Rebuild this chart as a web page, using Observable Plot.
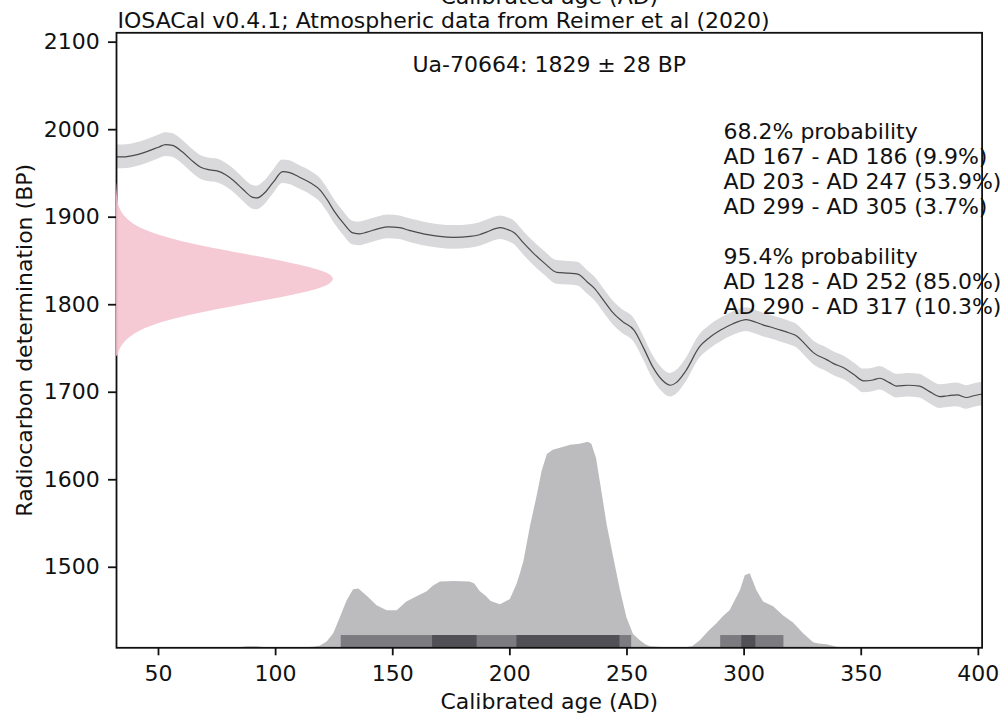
<!DOCTYPE html>
<html><head><meta charset="utf-8">
<script src="https://cdn.jsdelivr.net/npm/d3@7"></script>
<script src="https://cdn.jsdelivr.net/npm/@observablehq/plot@0.6"></script>
<style>
html,body{margin:0;padding:0;background:#fff;}
#chart{width:1005px;height:715px;}
</style></head><body><div id="chart"></div>
<script>
// Calibration curve (IntCal20 excerpt)
const curveAge = [32.1,35,40,45,50,53,56,60,65,68,72,75,79,82,86,90,92,95,99,103,106,110,115,119,122,125,129,133,136,139,144,148,153,157,160,165,170,176,183,187,190,196,199,202,206,210,215,220,225,229,233,236,240,244,248,253,257,261,265,268.5,271,275,281,285,290,295,301,305,308,312,315.5,319,322.6,326,329.7,335.4,338,342.5,347,351,355,358,362,365,370,375,379,383.7,387,390.9,395,398,401.6];
const curveBP = [1969,1969,1971,1975,1980,1983,1982,1975,1963,1957,1954,1953,1948,1942,1932,1923,1922,1927,1940,1952,1951,1946,1939,1931,1920,1907,1893,1882,1881,1883,1887,1889,1888,1885,1883,1880,1878,1877,1878,1880,1883,1888,1886,1882,1870,1859,1847,1837,1836,1835,1826,1819,1805,1791,1781,1771,1751,1729,1714,1708,1711,1724,1752,1762,1771,1778,1783,1780,1777,1774,1771,1768,1764,1755,1745,1737,1733,1728,1720,1713,1714,1716,1711,1707,1708,1707,1701,1695,1696,1697,1694,1696,1698];
const curveSigma = 13.5;

// Calibrated probability (relative to peak)
const probAge = [84,88,92,96,112,116,119,122,124.8,127.7,130.5,133.3,135.5,139,143.3,147.6,151.9,156,160.4,164.7,167.4,170.4,176,183,185,187.4,190,192,196,200.2,203,204.5,206,208.8,211.7,213.8,216,218.5,221.6,226,230,233.5,235,237,239,241.5,244.3,247.2,250,252.8,255.7,258,260,265,275,278,281.3,285,288.4,291,294,298.4,300.5,302.6,305.5,308.3,312.6,316.9,321.1,325.4,329.7,332,335.4,339.7,345];
const probRel = [0,0.005,0.005,0,0,0.003,0.008,0.028,0.068,0.149,0.228,0.282,0.286,0.252,0.204,0.180,0.180,0.223,0.248,0.272,0.301,0.320,0.322,0.320,0.31,0.272,0.25,0.225,0.209,0.235,0.306,0.36,0.42,0.59,0.74,0.86,0.94,0.96,0.97,0.985,0.99,1.0,0.99,0.92,0.78,0.60,0.44,0.28,0.145,0.065,0.034,0.015,0.005,0.001,0,0.005,0.034,0.08,0.117,0.15,0.18,0.277,0.35,0.36,0.277,0.223,0.2,0.155,0.121,0.068,0.024,0.018,0.015,0.003,0];

// Radiocarbon determination profile (relative)
const pinkBP = [1938,1930,1920,1910,1900,1890,1880,1870,1860,1850,1840,1834,1829,1824,1818,1810,1800,1790,1780,1770,1760,1750,1741];
const pinkRel = [0.001,0.003,0.006,0.016,0.042,0.094,0.19,0.34,0.54,0.755,0.925,0.985,1,0.985,0.93,0.795,0.585,0.38,0.215,0.11,0.05,0.019,0.006];

// HPD intervals
const hpd95Start = [128, 290], hpd95End = [252, 317];
const hpd68Start = [167, 203, 299], hpd68End = [186, 247, 305];

const xTicks = [50,100,150,200,250,300,350,400];
const yTicks = [1500,1600,1700,1800,1900,2000,2100];

const titleText = "IOSACal v0.4.1; Atmospheric data from Reimer et al (2020)";
const sampleText = "Ua-70664: 1829 \u00b1 28 BP";
const probText = "68.2% probability\nAD 167 - AD 186 (9.9%)\nAD 203 - AD 247 (53.9%)\nAD 299 - AD 305 (3.7%)\n\n95.4% probability\nAD 128 - AD 252 (85.0%)\nAD 290 - AD 317 (10.3%)";
const xLabel = "Calibrated age (AD)";
const yLabel = "Radiocarbon determination (BP)";

const xDomain = [32.07, 401.6];
const yDomain = [1408, 2110.7];
const densityScale = 235;   // BP units for peak of calibrated density
const pinkScale = 92.6;     // years for peak of determination profile
const barHeight = 14;

const curve = curveAge.map((a, i) => ({age: a, bp: curveBP[i]}));
const prob = probAge.map((a, i) => ({age: a, p: probRel[i]}));
const pink = pinkBP.map((b, i) => ({bp: b, r: pinkRel[i]}));
const h95 = hpd95Start.map((s, i) => ({s, e: hpd95End[i]}));
const h68 = hpd68Start.map((s, i) => ({s, e: hpd68End[i]}));

const chart = Plot.plot({
  width: 1005, height: 715,
  marginLeft: 116, marginRight: 23.4, marginTop: 32.3, marginBottom: 67.7,
  style: {fontFamily: "DejaVu Sans", fontSize: "22px", color: "#111", background: "#fff"},
  x: {domain: xDomain},
  y: {domain: yDomain},
  marks: [
    Plot.areaY(curve, {x: "age", y1: d => d.bp - curveSigma, y2: d => d.bp + curveSigma, fill: "#d9d9db", curve: "monotone-x"}),
    Plot.line(curve, {x: "age", y: "bp", stroke: "#4a4a4a", strokeWidth: 1.2, curve: "monotone-x"}),
    Plot.areaY(prob, {x: "age", y1: yDomain[0], y2: d => yDomain[0] + d.p * densityScale, fill: "#bcbcbf", curve: "linear"}),
    Plot.rect(h95, {x1: "s", x2: "e", y1: yDomain[0], y2: yDomain[0] + barHeight, fill: "#7b7b80"}),
    Plot.rect(h68, {x1: "s", x2: "e", y1: yDomain[0], y2: yDomain[0] + barHeight, fill: "#505056"}),
    Plot.frame({stroke: "#111", strokeWidth: 1.8}),
    Plot.areaX(pink, {y: "bp", x1: xDomain[0], x2: d => xDomain[0] + d.r * pinkScale, fill: "#f4c4cf", fillOpacity: 0.9, curve: "catmull-rom"}),
    Plot.axisX({ticks: xTicks, tickFormat: d => String(d), tickSize: 8, tickPadding: 9.5, label: null, stroke: "#111", strokeWidth: 1.8}),
    Plot.axisY({ticks: yTicks, tickFormat: d => String(d), tickSize: 8, tickPadding: 8.7, label: null, stroke: "#111", strokeWidth: 1.8}),
    Plot.text([xLabel], {text: d => d, frameAnchor: "top", dy: -29.3, lineAnchor: "bottom", fill: "#111"}),
    Plot.text([titleText], {text: d => d, frameAnchor: "top-left", textAnchor: "start", dx: 1, dy: -5, lineAnchor: "bottom", fill: "#111", ariaLabel: "title-box"}),
    Plot.text([sampleText], {text: d => d, frameAnchor: "top", dy: 38.7, lineAnchor: "bottom", fill: "#111"}),
    Plot.text([probText], {text: d => d, frameAnchor: "top-left", textAnchor: "start", dx: 607, dy: 88.1, lineAnchor: "top", lineHeight: 1.136, fill: "#111", ariaLabel: "prob-box"}),
    Plot.text([xLabel], {text: d => d, frameAnchor: "bottom", dy: 60.7, lineAnchor: "bottom", fill: "#111"}),
    Plot.text([yLabel], {text: d => d, frameAnchor: "left", textAnchor: "middle", rotate: -90, dx: -85, lineAnchor: "bottom", fill: "#111"})
  ]
});
document.getElementById("chart").append(chart);

function addBox(label, pad) {
  const g = chart.querySelector(`g[aria-label="${label}"]`);
  if (!g) return;
  const s = chart.getBoundingClientRect();
  const r = g.getBoundingClientRect();
  const rect = document.createElementNS("http://www.w3.org/2000/svg", "rect");
  rect.setAttribute("x", r.left - s.left - pad[3]);
  rect.setAttribute("y", r.top - s.top - pad[0]);
  rect.setAttribute("width", r.width + pad[1] + pad[3]);
  rect.setAttribute("height", r.height + pad[0] + pad[2]);
  rect.setAttribute("fill", "white");
  rect.setAttribute("fill-opacity", 0.8);
  g.parentNode.insertBefore(rect, g);
}
addBox("title-box", [4, 12, 2, 4]);
addBox("prob-box", [6, 8, 6, 8]);
</script></body></html>
